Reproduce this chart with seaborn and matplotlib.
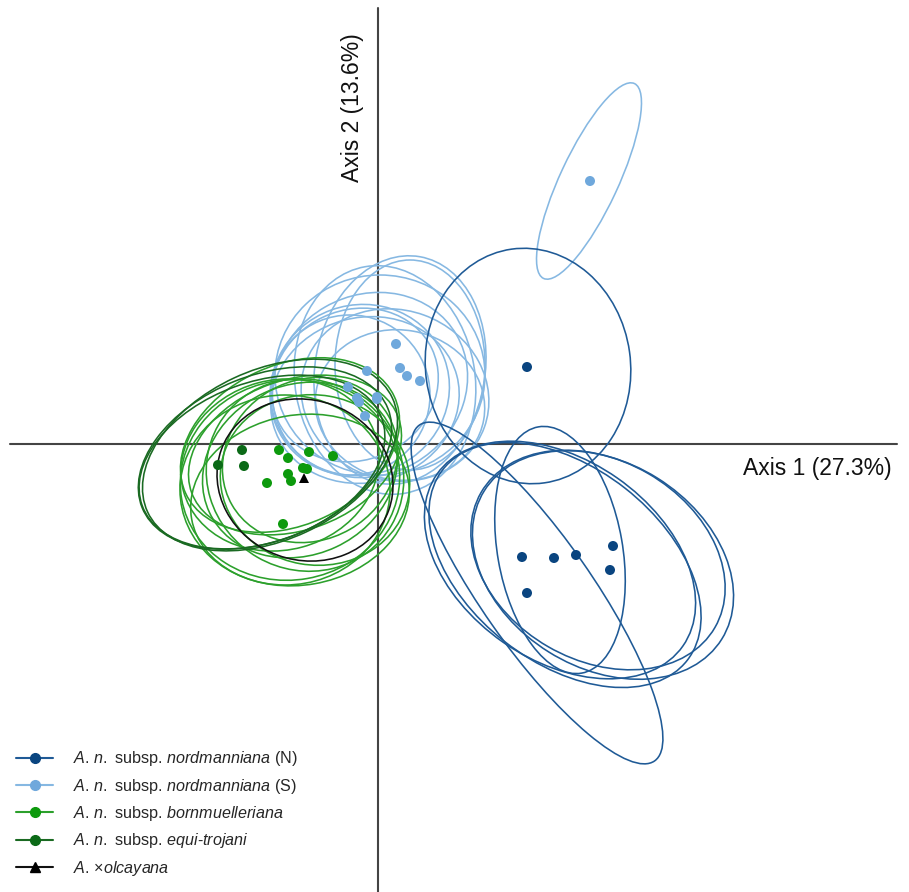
import matplotlib
matplotlib.use('Agg')
import matplotlib.pyplot as plt
from matplotlib.patches import Ellipse
from matplotlib.lines import Line2D
import seaborn as sns
import pandas as pd

# sample scores on the two axes
groups = ["N", "S", "born", "equi", "olc"]
labels = [
    r"$\it{A.\,n.}$ subsp. $\it{nordmanniana}$ (N)",
    r"$\it{A.\,n.}$ subsp. $\it{nordmanniana}$ (S)",
    r"$\it{A.\,n.}$ subsp. $\it{bornmuelleriana}$",
    r"$\it{A.\,n.}$ subsp. $\it{equi}$-$\it{trojani}$",
    r"$\it{A.}\,$×$\it{olcayana}$",
]
n_x = [1.49, 1.44, 1.76, 1.98, 2.35, 2.32, 1.49]
n_y = [0.77, -1.13, -1.14, -1.11, -1.02, -1.26, -1.49]
s_x = [2.12, 0.18, 0.22, 0.29, 0.42, -0.11, -0.30, -0.21, -0.19, -0.01, -0.01, -0.13]
s_y = [2.63, 1.00, 0.76, 0.68, 0.63, 0.73, 0.57, 0.46, 0.42, 0.47, 0.45, 0.28]
born_x = [-0.99, -0.90, -0.69, -0.45, -0.75, -0.71, -0.90, -0.87, -1.11, -0.95]
born_y = [-0.06, -0.14, -0.08, -0.12, -0.24, -0.25, -0.30, -0.37, -0.39, -0.80]
equi_x = [-1.36, -1.34, -1.60]
equi_y = [-0.06, -0.22, -0.21]
olc_x = [-0.74]
olc_y = [-0.34]

# ellipses: centre x, centre y, width, height, angle
n_ell = [(1.50, 0.78, 2.36, 2.05, 98), (1.59, -1.49, 4.10, 1.10, -55),
         (1.82, -1.16, 3.00, 2.00, -35), (1.87, -1.21, 3.10, 1.95, -38),
         (2.20, -1.16, 2.70, 2.00, -30), (2.25, -1.21, 2.80, 2.05, -32),
         (1.82, -1.06, 2.50, 1.25, -80)]
s_ell = [(2.11, 2.63, 2.15, 0.58, 65), (0.22, 0.74, 1.70, 2.30, -10),
         (0.32, 0.79, 1.50, 2.10, 0), (-0.08, 0.59, 2.00, 1.80, 30),
         (-0.18, 0.54, 1.80, 1.70, 20), (0.02, 0.69, 2.10, 2.00, 0),
         (-0.28, 0.49, 1.60, 1.60, 0), (0.17, 0.49, 1.90, 1.70, -20),
         (-0.13, 0.44, 1.90, 1.65, 15), (0.07, 0.64, 1.80, 2.30, 10),
         (-0.23, 0.59, 1.70, 1.50, 25), (0.22, 0.39, 1.70, 1.50, -10)]
born_ell = [(-0.88, -0.36, 2.2, 2.0, 10), (-0.78, -0.26, 2.0, 1.7, 25),
            (-0.93, -0.46, 2.1, 1.9, 0), (-0.68, -0.16, 1.8, 1.6, 30),
            (-0.83, -0.11, 2.2, 1.5, 20), (-0.73, -0.31, 1.9, 2.0, 60),
            (-0.98, -0.21, 2.0, 1.7, 15), (-0.63, -0.36, 1.7, 1.9, 80),
            (-0.78, -0.56, 2.2, 1.7, 10), (-0.88, -0.01, 2.3, 1.6, 25)]
equi_ell = [(-1.13, -0.14, 2.65, 1.65, 22), (-1.16, -0.18, 2.55, 1.60, 20),
            (-1.08, -0.11, 2.70, 1.70, 25)]
olc_ell = [(-0.73, -0.36, 1.78, 1.60, -20)]

point_colors = ["#0a4580", "#6fa8dc", "#0d9a0d", "#0b6a17", "#000000"]
line_colors = ["#1f5a96", "#86b8e2", "#2ca02c", "#1a6a22", "#111111"]

df = pd.concat([
    pd.DataFrame({"x": n_x, "y": n_y, "group": "N"}),
    pd.DataFrame({"x": s_x, "y": s_y, "group": "S"}),
    pd.DataFrame({"x": born_x, "y": born_y, "group": "born"}),
    pd.DataFrame({"x": equi_x, "y": equi_y, "group": "equi"}),
    pd.DataFrame({"x": olc_x, "y": olc_y, "group": "olc"}),
])

sns.set_style("white")
plt.rcParams['font.family'] = ['Liberation Sans', 'DejaVu Sans']
plt.rcParams['mathtext.fontset'] = 'custom'
plt.rcParams['mathtext.rm'] = 'Liberation Sans'
plt.rcParams['mathtext.it'] = 'Liberation Sans:italic'

fig = plt.figure(figsize=(9.09, 8.92), dpi=100)
ax = fig.add_axes([0, 0, 1, 1])
ax.set_xlim(-3.78, 5.31)
ax.set_ylim(-4.48, 4.44)
ax.set_aspect('equal')
for sp in ax.spines.values():
    sp.set_visible(False)
ax.set_xticks([])
ax.set_yticks([])

# axis cross
ax.axhline(0, xmin=0.011, xmax=0.987, color="#444444", lw=1.5, zorder=1)
ax.axvline(0, ymin=0.0, ymax=0.991, color="#444444", lw=1.5, zorder=1)

for ells, col in zip([s_ell, n_ell, born_ell, equi_ell, olc_ell],
                     [line_colors[1], line_colors[0], line_colors[2], line_colors[3], line_colors[4]]):
    for cx, cy, w, h, a in ells:
        ax.add_patch(Ellipse((cx, cy), w, h, angle=a, fill=False, edgecolor=col, lw=1.15, zorder=2))

sns.scatterplot(data=df, x="x", y="y", hue="group", style="group",
                palette=dict(zip(groups, point_colors)),
                markers={"N": "o", "S": "o", "born": "o", "equi": "o", "olc": "^"},
                s=52, edgecolor="none", legend=False, ax=ax, zorder=3)
ax.set_xlabel("")
ax.set_ylabel("")

ax.text(5.14, -0.24, "Axis 1 (27.3%)", ha="right", va="center", fontsize=16.5, color="#111111")
ax.text(-0.25, 3.36, "Axis 2 (13.6%)", ha="center", va="center", rotation=90, fontsize=16.5, color="#111111")

handles = []
for g, pc, lc in zip(groups, point_colors, line_colors):
    handles.append(Line2D([], [], color=lc, lw=1.5,
                          marker="^" if g == "olc" else "o", markersize=7,
                          markerfacecolor=pc, markeredgecolor=pc))
ax.legend(handles, labels, loc="upper left", bbox_to_anchor=(0.018, 0.160),
          frameon=False, fontsize=11.6, handlelength=2.3, handletextpad=1.2,
          labelspacing=0.52, borderpad=0, borderaxespad=0)

fig.savefig("out.png", dpi=100)
